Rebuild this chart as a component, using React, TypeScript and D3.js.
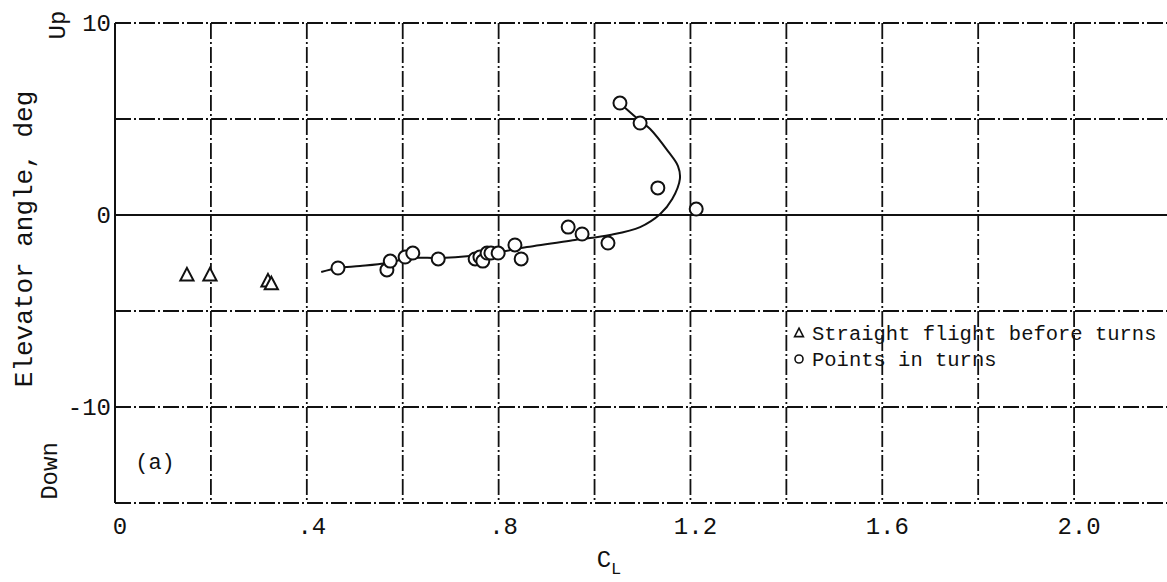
import React from "react";
import * as d3 from "d3";

// Straight flight before turns (triangles)
const triCL = [0.15, 0.198, 0.319, 0.326];
const triElev = [-3.13, -3.13, -3.44, -3.59];

// Points in turns (circles)
const turnCL = [0.465, 0.567, 0.574, 0.605, 0.621, 0.674, 0.751, 0.761, 0.767, 0.776, 0.784, 0.799, 0.834, 0.847, 0.945, 0.974, 1.028, 1.053, 1.095, 1.132, 1.212];
const turnElev = [-2.76, -2.86, -2.4, -2.19, -1.98, -2.29, -2.29, -2.19, -2.4, -1.98, -1.98, -1.98, -1.56, -2.29, -0.63, -0.99, -1.46, 5.83, 4.79, 1.41, 0.31];

// Faired curve
const fairCL = [0.43, 0.465, 0.511, 0.567, 0.615, 0.678, 0.74, 0.803, 0.859, 0.959, 1.032, 1.095, 1.137, 1.162, 1.178, 1.174, 1.153, 1.116, 1.095, 1.057];
const fairElev = [-2.97, -2.76, -2.66, -2.5, -2.24, -2.24, -2.14, -1.93, -1.67, -1.3, -1.04, -0.63, 0.05, 0.83, 1.88, 2.55, 3.33, 4.48, 4.9, 5.73];

const xGrid = [0.2, 0.4, 0.6, 0.8, 1.0, 1.2, 1.4, 1.6, 1.8, 2.0];
const yGrid = [10, 5, 0, -5, -10, -15];
const xTickVals = [0, 0.4, 0.8, 1.2, 1.6, 2.0];
const xTickLabels = ["0", ".4", ".8", "1.2", "1.6", "2.0"];
const yTickVals = [10, 0, -10];
const yTickLabels = ["10", "0", "-10"];

const legendLabels = ["Straight flight before turns", "Points in turns"];

const W = 1167;
const H = 582;
const FONT = "'Liberation Mono', 'DejaVu Sans Mono', monospace";

export default function App() {
  const x = d3.scaleLinear().domain([0, 2.2]).range([115, 1170]);
  const y = d3.scaleLinear().domain([-15, 10]).range([503, 23]);

  const fairPts: [number, number][] = fairCL.map((c, i) => [c, fairElev[i]]);
  const line = d3
    .line<[number, number]>()
    .x((d) => x(d[0]))
    .y((d) => y(d[1]))
    .curve(d3.curveCatmullRom.alpha(0.5));

  const tri = (cx: number, cy: number, s: number) =>
    `M${cx},${cy - s * 0.6} L${cx + s * 0.55},${cy + s * 0.45} L${cx - s * 0.55},${cy + s * 0.45} Z`;

  const gridDash = "16,3,2,3";

  return (
    <svg
      width={W}
      height={H}
      style={{ position: "absolute", left: 0, top: 0, background: "#fff" }}
      fontFamily={FONT}
    >
      <rect x={0} y={0} width={W} height={H} fill="#fff" />
      {/* horizontal grid */}
      {yGrid.map((v) => (
        <line
          key={"h" + v}
          x1={x(0)}
          x2={W}
          y1={y(v)}
          y2={y(v)}
          stroke="#111"
          strokeWidth={v === 0 ? 2.2 : 1.8}
          strokeDasharray={v === 0 ? undefined : gridDash}
        />
      ))}
      {/* vertical grid */}
      {xGrid.map((v) => (
        <line
          key={"v" + v}
          x1={x(v)}
          x2={x(v)}
          y1={y(10)}
          y2={y(-15)}
          stroke="#111"
          strokeWidth={1.8}
          strokeDasharray={gridDash}
        />
      ))}
      {/* left axis */}
      <line x1={x(0)} x2={x(0)} y1={y(10)} y2={y(-15)} stroke="#111" strokeWidth={2} />

      {/* faired curve */}
      <path d={line(fairPts) || ""} fill="none" stroke="#111" strokeWidth={2} />

      {/* triangles */}
      {triCL.map((c, i) => (
        <path
          key={"t" + i}
          d={tri(x(c), y(triElev[i]), 12)}
          fill="#fff"
          stroke="#111"
          strokeWidth={2}
        />
      ))}
      {/* circles */}
      {turnCL.map((c, i) => (
        <circle
          key={"c" + i}
          cx={x(c)}
          cy={y(turnElev[i])}
          r={6.5}
          fill="#fff"
          stroke="#111"
          strokeWidth={2}
        />
      ))}

      {/* y tick labels */}
      {yTickVals.map((v, i) => (
        <text
          key={"yl" + v}
          x={111}
          y={y(v) + 8}
          textAnchor="end"
          fontSize={24}
          fill="#111"
        >
          {yTickLabels[i]}
        </text>
      ))}
      {/* x tick labels */}
      {xTickVals.map((v, i) => (
        <text
          key={"xl" + v}
          x={x(v) + 5}
          y={534}
          textAnchor="middle"
          fontSize={24}
          fill="#111"
        >
          {xTickLabels[i]}
        </text>
      ))}

      {/* axis titles */}
      <text
        transform="translate(32,239) rotate(-90)"
        textAnchor="middle"
        fontSize={26}
        fill="#111"
      >
        Elevator angle, deg
      </text>
      <text transform="translate(65,25) rotate(-90)" textAnchor="middle" fontSize={24} fill="#111">
        Up
      </text>
      <text transform="translate(57,471) rotate(-90)" textAnchor="middle" fontSize={24} fill="#111">
        Down
      </text>
      <text x={609} y={567} textAnchor="middle" fontSize={24} fill="#111">
        C<tspan fontSize={17} dy={7}>L</tspan>
      </text>
      <text x={155} y={469} textAnchor="middle" fontSize={22} fill="#111">
        (a)
      </text>

      {/* legend */}
      <path d={tri(799, 333, 8)} fill="#fff" stroke="#111" strokeWidth={1.6} />
      <text x={812} y={340} fontSize={20.5} fill="#111">
        {legendLabels[0]}
      </text>
      <circle cx={799} cy={359} r={4} fill="#fff" stroke="#111" strokeWidth={1.6} />
      <text x={812} y={366} fontSize={20.5} fill="#111">
        {legendLabels[1]}
      </text>
    </svg>
  );
}
